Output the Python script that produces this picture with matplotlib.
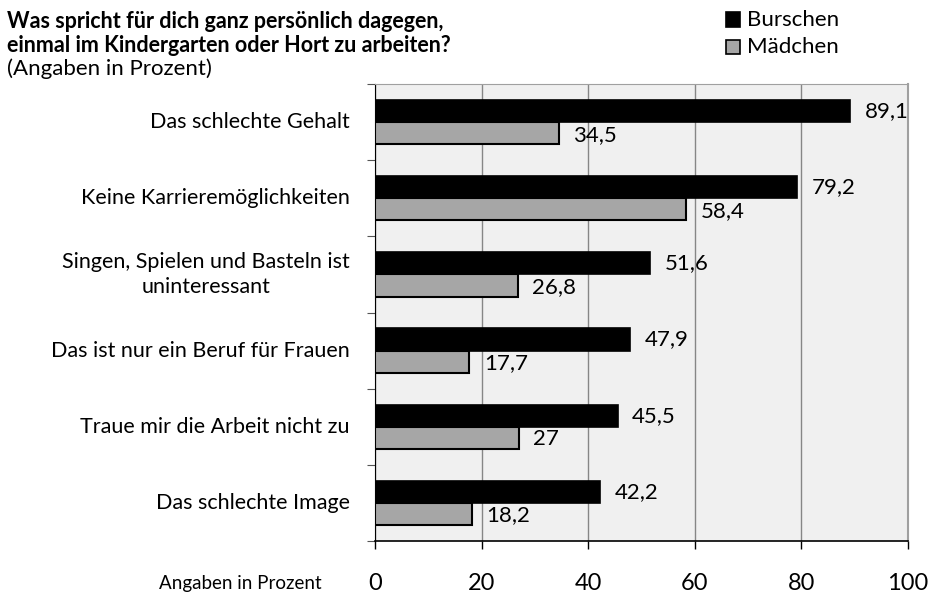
import numpy as np
import matplotlib.pyplot as plt
from matplotlib.patches import Rectangle

plt.rcParams["font.family"] = ["Lato", "DejaVu Sans"]

# =============================================================================
# Data

categories = [
    "Das schlechte Gehalt",
    "Keine Karrieremöglichkeiten",
    "Singen, Spielen und Basteln ist\nuninteressant",
    "Das ist nur ein Beruf für Frauen",
    "Traue mir die Arbeit nicht zu",
    "Das schlechte Image",
]
burschen = [89.1, 79.2, 51.6, 47.9, 45.5, 42.2]
maedchen = [34.5, 58.4, 26.8, 17.7, 27.0, 18.2]
burschen_labels = ["89,1", "79,2", "51,6", "47,9", "45,5", "42,2"]
maedchen_labels = ["34,5", "58,4", "26,8", "17,7", "27", "18,2"]
xticks = [0, 20, 40, 60, 80, 100]

# =============================================================================
# Plot

W, H = 932, 595
fg = plt.figure(figsize=(W / 100, H / 100), dpi=100)
ax = fg.add_axes([375 / W, 1 - 541 / H, (908 - 375) / W, (541 - 84) / H])
ax.set_facecolor("#f0f0f0")

y = np.arange(len(categories))
bh = 0.29
ax.barh(y - bh / 2, burschen, height=bh, color="black", edgecolor="black", lw=1.2, zorder=3)
ax.barh(y + bh / 2, maedchen, height=bh, color="#a6a6a6", edgecolor="black", lw=1.5, zorder=3)

for yi, v, s in zip(y, burschen, burschen_labels):
    ax.annotate(s, (v, yi - bh / 2), xytext=(10.5, 0), textcoords="offset points",
                va="center", ha="left", fontsize=16, zorder=4)
for yi, v, s in zip(y, maedchen, maedchen_labels):
    ax.annotate(s, (v, yi + bh / 2 + 0.02), xytext=(10.5, 0), textcoords="offset points",
                va="center", ha="left", fontsize=16, zorder=4)

ax.set_xlim(0, 100)
ax.set_ylim(len(categories) - 0.5, -0.5)
ax.set_xticks(xticks)
ax.set_xticklabels([str(t) for t in xticks], fontsize=17)
ax.tick_params(axis="x", direction="out", length=6, width=1, pad=17)

ax.set_yticks(np.arange(-0.5, len(categories)), minor=False)
ax.set_yticklabels([])
ax.tick_params(axis="y", direction="out", length=6, width=0.8, color="#555555")
for yi, c in zip(y, categories):
    ax.text(-0.047, yi, c, transform=ax.get_yaxis_transform(), ha="right", va="center",
            fontsize=15.5, multialignment="center", linespacing=1.3)

ax.grid(axis="x", color="#868686", lw=1, zorder=1)
ax.spines["left"].set_color("black")
ax.spines["bottom"].set_color("black")
ax.spines["bottom"].set_linewidth(1.2)
ax.spines["top"].set_color("#a0a0a0")
ax.spines["right"].set_color("#a0a0a0")
ax.spines["right"].set_linewidth(1.5)

# Title and notes
fg.text(7 / W, 1 - 21 / H, "Was spricht für dich ganz persönlich dagegen,", fontsize=15.5,
        fontweight="bold", va="center", ha="left")
fg.text(7 / W, 1 - 45 / H, "einmal im Kindergarten oder Hort zu arbeiten?", fontsize=15.5,
        fontweight="bold", va="center", ha="left")
fg.text(7 / W, 1 - 69 / H, "(Angaben in Prozent)", fontsize=16, va="center", ha="left")
fg.text(322 / W, 1 - 584 / H, "Angaben in Prozent", fontsize=13.5, va="center", ha="right")

# Legend
for i, (lbl, col) in enumerate([("Burschen", "black"), ("Mädchen", "#a6a6a6")]):
    yc = 1 - (19.5 + 27.5 * i) / H
    fg.patches.append(Rectangle((726 / W, yc - 7 / H), 14 / W, 14 / H, facecolor=col,
                                edgecolor="black", lw=1.2, transform=fg.transFigure))
    fg.text(747 / W, yc, lbl, fontsize=16, va="center", ha="left")

fg.savefig("out.png", dpi=100)
